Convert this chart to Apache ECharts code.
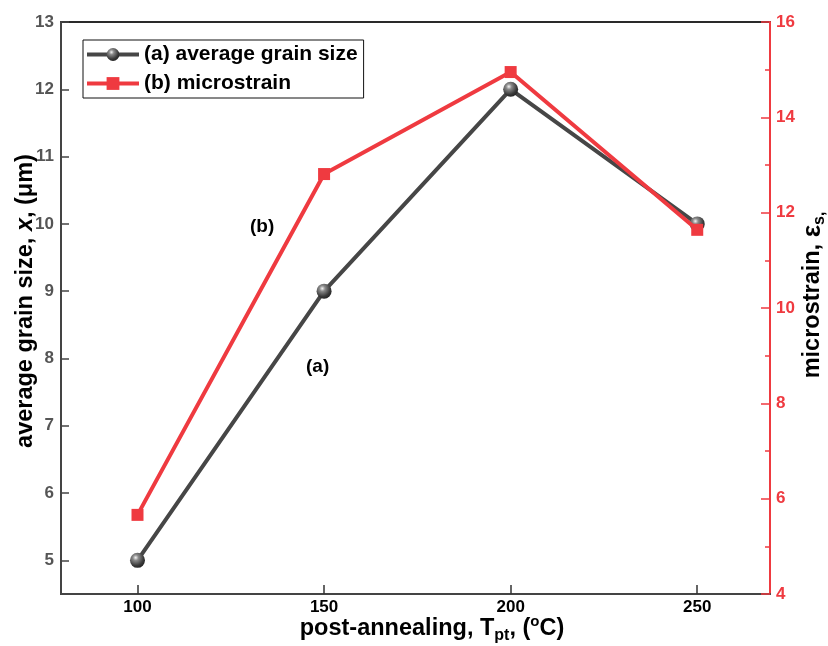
<!DOCTYPE html>
<html>
<head>
<meta charset="utf-8">
<script src="https://cdn.jsdelivr.net/npm/echarts@6/dist/echarts.min.js"></script>
<style>
  html, body { margin: 0; padding: 0; background: #fff; }
  #chart { width: 828px; height: 646px; }
</style>
</head>
<body>
<div id="chart"></div>
<script>
// Post-annealing temperatures (°C)
const temperatures = [100, 150, 200, 250];
// (a) average grain size, µm
const grainSize = [5, 9, 12, 10];
// (b) microstrain
const microstrain = [5.66, 12.81, 14.95, 11.64];
const xTicks = [100, 150, 200, 250];
const leftTicks = [5, 6, 7, 8, 9, 10, 11, 12, 13];

const FONT = '"Liberation Sans", Arial, sans-serif';
const GREY = '#464646';
const RED = '#ef3a40';

const chart = echarts.init(document.getElementById('chart'), null, { renderer: 'canvas' });

// shaded ball marker for the grain-size series
const sphere = {
  type: 'radial', x: 0.38, y: 0.32, r: 0.75,
  colorStops: [
    { offset: 0, color: '#f4f4f4' },
    { offset: 0.25, color: '#8a8a8a' },
    { offset: 0.7, color: '#3a3a3a' },
    { offset: 1, color: '#1e1e1e' }
  ]
};

const titleRich = {
  t: { fontFamily: FONT, fontWeight: 'bold', fontSize: 23.5, color: '#000' },
  i: { fontFamily: FONT, fontWeight: 'bold', fontStyle: 'italic', fontSize: 23.5, color: '#000' },
  sub: { fontFamily: FONT, fontWeight: 'bold', fontSize: 16, color: '#000', verticalAlign: 'bottom', padding: [14, 0, 0, 0] },
  sup: { fontFamily: FONT, fontWeight: 'bold', fontSize: 15, color: '#000', verticalAlign: 'top', padding: [0, 0, 10, 0] },
  eps: { fontFamily: FONT, fontWeight: 'bold', fontSize: 26, color: '#000' }
};

chart.setOption({
  animation: false,
  textStyle: { fontFamily: FONT },
  grid: {
    left: 61, right: 58, top: 22, bottom: 52,
    containLabel: false,
    outerBoundsMode: 'none',
    show: true, borderColor: '#2a2a2a', borderWidth: 2, backgroundColor: 'transparent'
  },
  legend: {
    left: 83, top: 40,
    orient: 'vertical',
    itemGap: 8,
    itemWidth: 52, itemHeight: 16,
    padding: [4, 6, 4, 2],
    borderColor: '#111', borderWidth: 1,
    lineStyle: { width: 4 },
    textStyle: { fontFamily: FONT, fontWeight: 'bold', fontSize: 21, color: '#000' },
    data: ['(a) average grain size', '(b) microstrain']
  },
  xAxis: {
    type: 'value',
    min: 79.5, max: 269.5,
    axisLine: { show: true, lineStyle: { color: '#444', width: 2 } },
    axisTick: {
      show: true, inside: true, length: 9, lineStyle: { color: '#333', width: 1.5 },
      customValues: xTicks
    },
    axisLabel: {
      customValues: xTicks,
      color: '#000', fontWeight: 'bold', fontSize: 17, fontFamily: FONT, margin: 5
    },
    splitLine: { show: false }
  },
  yAxis: [
    {
      type: 'value',
      min: 4.5, max: 13,
      position: 'left',
      axisLine: { show: true, lineStyle: { color: '#444', width: 2 } },
      axisTick: {
        show: true, inside: true, length: 8, lineStyle: { color: '#444', width: 1.5 },
        customValues: leftTicks
      },
      minorTick: { show: true, splitNumber: 2, length: 5, lineStyle: { color: '#444', width: 1.5 } },
      axisLabel: {
        customValues: leftTicks,
        color: '#555', fontWeight: 'bold', fontSize: 17, fontFamily: FONT, margin: 7
      },
      splitLine: { show: false }
    },
    {
      type: 'value',
      min: 4, max: 16,
      interval: 2,
      position: 'right',
      axisLine: { show: true, lineStyle: { color: RED, width: 2 } },
      axisTick: { show: true, inside: true, length: 9, lineStyle: { color: RED, width: 1.5 } },
      minorTick: { show: true, splitNumber: 2, length: 5, lineStyle: { color: RED, width: 1.5 } },
      axisLabel: { color: RED, fontWeight: 'bold', fontSize: 17, fontFamily: FONT, margin: 6 },
      splitLine: { show: false }
    }
  ],
  series: [
    {
      name: '(a) average grain size',
      type: 'line',
      yAxisIndex: 0,
      data: temperatures.map((t, i) => [t, grainSize[i]]),
      lineStyle: { color: GREY, width: 4 },
      symbol: 'circle',
      symbolSize: 15,
      itemStyle: { color: sphere, borderWidth: 0 },
      z: 2
    },
    {
      name: '(b) microstrain',
      type: 'line',
      yAxisIndex: 1,
      data: temperatures.map((t, i) => [t, microstrain[i]]),
      lineStyle: { color: RED, width: 4 },
      symbol: 'rect',
      symbolSize: 12,
      itemStyle: { color: RED, borderWidth: 0 },
      z: 3
    }
  ],
  graphic: [
    // axis titles
    {
      type: 'text', x: 432, y: 629,
      style: {
        text: '{t|post-annealing, T}{sub|pt}{t|, (}{sup|o}{t|C)}',
        rich: titleRich, align: 'center', verticalAlign: 'middle'
      }
    },
    {
      type: 'text', x: 26, y: 301, rotation: Math.PI / 2,
      style: {
        text: '{t|average grain size, }{i|x}{t|, (μm)}',
        rich: titleRich, align: 'center', verticalAlign: 'middle'
      }
    },
    {
      type: 'text', x: 813, y: 295, rotation: Math.PI / 2,
      style: {
        text: '{t|microstrain, }{eps|ε}{sub|s,}',
        rich: titleRich, align: 'center', verticalAlign: 'middle'
      }
    },
    // series tags
    { type: 'text', left: 250, top: 217, style: { text: '(b)', font: 'bold 19px ' + FONT, fill: '#000' } },
    { type: 'text', left: 306, top: 357, style: { text: '(a)', font: 'bold 19px ' + FONT, fill: '#000' } }
  ]
});
</script>
</body>
</html>
